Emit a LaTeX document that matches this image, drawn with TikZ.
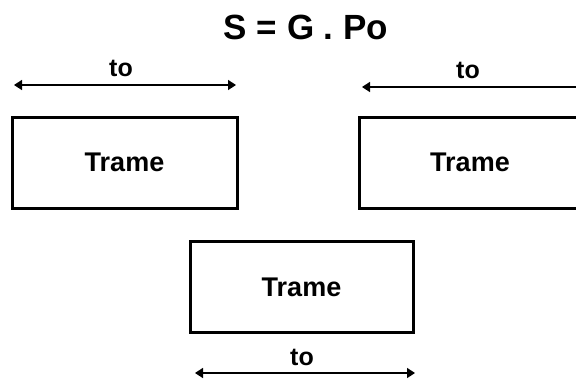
\documentclass[tikz,border=0pt]{standalone}
\usepackage{fontspec}
\setmainfont{Liberation Sans}
\usetikzlibrary{arrows.meta}
\tikzset{
  frame/.style={draw=black, line width=3pt, minimum width=225pt, minimum height=91pt, inner sep=0pt,
    font=\fontsize{27}{30}\selectfont\bfseries},
  dim/.style={draw=black, line width=1.5pt, {Triangle[length=8pt,width=10pt]}-{Triangle[length=8pt,width=10pt]}},
  dimleft/.style={draw=black, line width=1.5pt, {Triangle[length=8pt,width=10pt]}-},
  lab/.style={anchor=base, inner sep=0pt, font=\fontsize{25}{28}\selectfont\bfseries},
  title/.style={anchor=base, inner sep=0pt, font=\fontsize{35}{40}\selectfont\bfseries}
}
\begin{document}
\begin{tikzpicture}[x=1pt,y=-1pt]
\useasboundingbox (0,0) rectangle (576,381);
\clip (0,0) rectangle (576,381);
\node[title] (t) at (306,39) {S = G . Po};
% left
\node[frame] (b1) at (124.5,162.5) {Trame};
\coordinate (a1l) at (14,85);
\coordinate (a1r) at (236,85);
\draw[dim] (a1l) -- (a1r);
\node[lab] (l1) at (121,76) {to};
% right
\node[frame, minimum width=222pt] (b2) at (470,162.5) {Trame};
\coordinate (a2l) at (362,87);
\coordinate (a2r) at (590,87);
\draw[dimleft] (a2l) -- (a2r);
\node[lab] (l2) at (468,78) {to};
% bottom
\node[frame, minimum width=223pt] (b3) at (301.5,287) {Trame};
\coordinate (a3l) at (195,373);
\coordinate (a3r) at (415,373);
\draw[dim] (a3l) -- (a3r);
\node[lab] (l3) at (302,365) {to};
\end{tikzpicture}
\end{document}
